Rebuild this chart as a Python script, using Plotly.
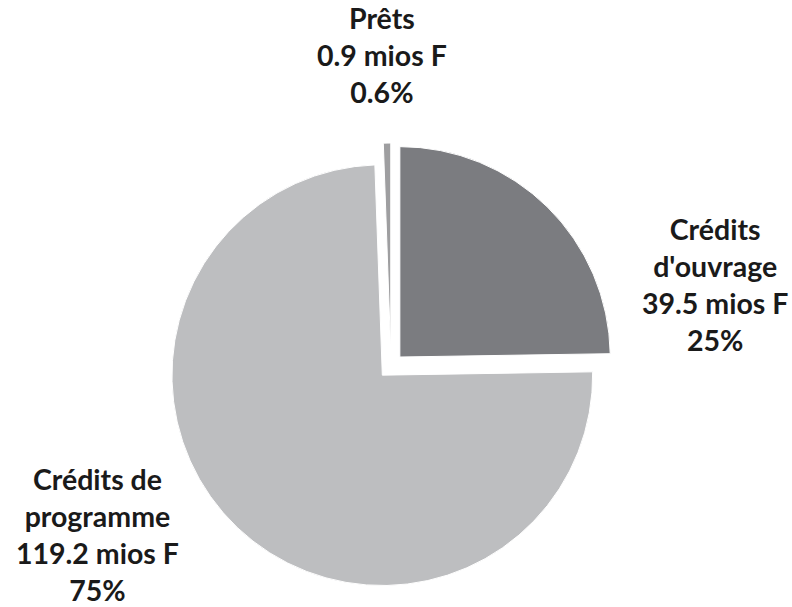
import plotly.graph_objects as go

# Data
categories = ["Crédits<br>d'ouvrage", "Crédits de<br>programme", "Prêts"]
values = [39.5, 119.2, 0.9]
colors = ["#7b7c80", "#bdbec0", "#9e9ea0"]
pulls = [0.06, 0.06, 0.06]

# label positions (paper coords) - layout only
label_pos = [(715 / 792, 1 - 284 / 607), (97 / 792, 1 - 534 / 607), (382 / 792, 1 - 55 / 607)]

total = sum(values)


def pct(v):
    p = v / total * 100
    return f"{p:.1f}%" if p < 1 else f"{p:.0f}%"


fig = go.Figure(
    go.Pie(
        labels=[c.replace("<br>", " ") for c in categories],
        values=values,
        sort=False,
        direction="clockwise",
        rotation=0,
        pull=pulls,
        marker=dict(colors=colors, line=dict(color="white", width=1)),
        textinfo="none",
        hoverinfo="label+value+percent",
        domain=dict(x=[168 / 792, 614 / 792], y=[(607 - 589) / 607, (607 - 143) / 607]),
        showlegend=False,
    )
)

annotations = []
for name, v, (x, y) in zip(categories, values, label_pos):
    annotations.append(
        dict(
            text=f"<b>{name}<br>{v} mios F<br>{pct(v)}</b>",
            x=x,
            y=y,
            xref="paper",
            yref="paper",
            xanchor="center",
            yanchor="middle",
            showarrow=False,
            align="center",
            font=dict(family="Lato", size=28.5, color="#1a1a1a"),
        )
    )

fig.update_layout(
    width=792,
    height=607,
    margin=dict(l=0, r=0, t=0, b=0),
    paper_bgcolor="white",
    plot_bgcolor="white",
    annotations=annotations,
)

fig.write_html(
    "out.html",
    config={"displayModeBar": False},
    post_script="document.body.style.margin='0';document.body.style.overflow='hidden';",
)
